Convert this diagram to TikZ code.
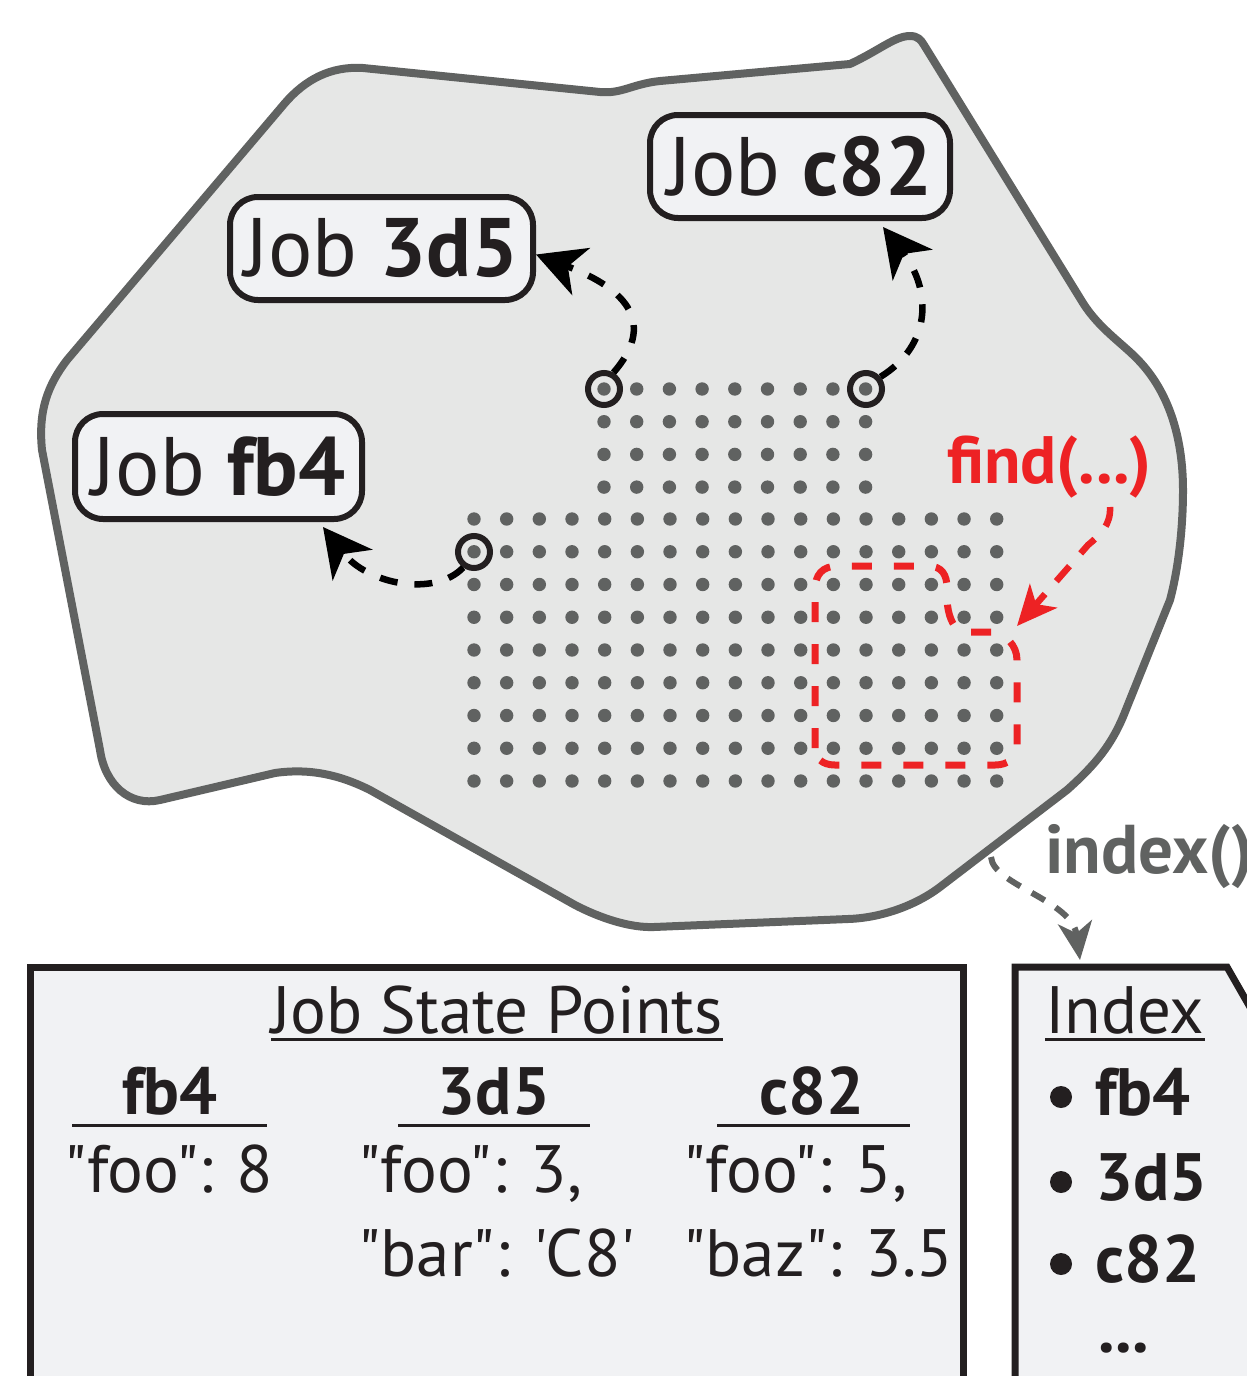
\documentclass[tikz,border=0pt]{standalone}
\usepackage{fontspec}
\setmainfont{PT Sans}[Ligatures=TeXOff]
\usetikzlibrary{arrows.meta}
\definecolor{blobfill}{RGB}{230,231,230}
\definecolor{blobline}{RGB}{96,98,97}
\definecolor{ink}{RGB}{35,31,32}
\definecolor{panelfill}{RGB}{241,242,244}
\definecolor{dotgray}{RGB}{96,98,97}
\definecolor{findred}{RGB}{237,34,36}
\newcommand\FsJob{\fontsize{83}{90}\selectfont}
\newcommand\FsBody{\fontsize{67}{76}\selectfont}
\newcommand\FsCall{\fontsize{67}{72}\selectfont}
\begin{document}
\begin{tikzpicture}[x=1pt,y=-1pt,
  blob/.style={draw=blobline,fill=blobfill,line width=8pt,line join=round},
  jobbox/.style={draw=ink,fill=panelfill,line width=6pt,rounded corners=28pt,inner sep=0pt,minimum height=103pt,font=\FsJob,text=ink},
  ring/.style={circle,draw=ink,line width=6pt,minimum size=32pt,inner sep=0pt},
  jobarrow/.style={black,line width=6.5pt,dash pattern=on 18pt off 17pt,-{Stealth[length=48pt,width=50pt,inset=14pt]}},
  findbox/.style={draw=findred,line width=7pt,dash pattern=on 20pt off 22pt},
  findarrow/.style={findred,line width=6.5pt,dash pattern=on 20pt off 17pt,-{Stealth[length=40pt,width=36pt,inset=11pt]}},
  idxarrow/.style={dotgray,line width=6pt,dash pattern=on 15pt off 13pt,-{Stealth[length=38pt,width=34pt,inset=11pt]}},
  panel/.style={draw=ink,fill=panelfill,line width=7pt},
  txt/.style={inner sep=0pt,font=\FsBody,text=ink},
  hdr/.style={txt,font=\FsBody\bfseries,anchor=base},
  rulel/.style={draw=ink,line width=3pt},
  bullet/.style={fill=ink},
]
\useasboundingbox (0,0) rectangle (1247,1376);

% workspace outline
\path[blob] (363,68) -- (600,92) .. controls (622,94) and (632,84) .. (660,81)
  -- (850,64) .. controls (880,50) and (895,36) .. (910,36)
  .. controls (918,36) and (921,40) .. (924,45)
  -- (1083,303) .. controls (1100,330) and (1125,345) .. (1141,363)
  .. controls (1170,395) and (1183,440) .. (1183,490)
  .. controls (1183,530) and (1178,570) .. (1170,600)
  -- (1125,712) .. controls (1112,745) and (1095,765) .. (1067,790)
  -- (940,887) .. controls (915,906) and (880,918) .. (848,919)
  -- (654,927) .. controls (630,928) and (600,918) .. (575,905)
  -- (370,790) .. controls (340,775) and (310,768) .. (275,773)
  -- (160,800) .. controls (130,807) and (105,785) .. (100,750)
  -- (42,450) .. controls (38,410) and (48,385) .. (67,360)
  -- (285,103) .. controls (305,80) and (330,66) .. (363,68) -- cycle;

% state point grid
\foreach \c in {0,...,8}
  \foreach \r in {0,...,3}
    \fill[dotgray] ({604+32.7*\c},{389+32.7*\r}) circle (6.7pt);
\foreach \c in {0,...,16}
  \foreach \r in {0,...,8}
    \fill[dotgray] ({474+32.67*\c},{519+32.75*\r}) circle (6.7pt);

% selected jobs
\node[ring] (s3d5) at (604,389) {};
\node[ring] (sc82) at (866,389) {};
\node[ring] (sfb4) at (474,552) {};

\node[jobbox,minimum width=303pt] (j3d5) at (381.5,248.5) {Job \textbf{3d5}};
\node[jobbox,minimum width=300pt] (jc82) at (800,166.5) {Job \textbf{c82}};
\node[jobbox,minimum width=287pt,minimum height=105pt] (jfb4) at (218.5,466.5) {Job \textbf{fb4}};

\draw[jobarrow] (s3d5.60) .. controls (655,325) and (630,290) .. ([yshift=-6pt]j3d5.east);
\draw[jobarrow] (sc82.40) .. controls (932,345) and (932,290) .. ([xshift=83pt,yshift=-6pt]jc82.south);
\draw[jobarrow] (sfb4.235) .. controls (435,597) and (368,585) .. ([xshift=104.5pt,yshift=-5pt]jfb4.south);

% find(...) selection
\draw[findbox] (815,748) -- (815,590) .. controls (815,575) and (822,566) .. (838,566)
  -- (928,566) .. controls (942,566) and (947,575) .. (947,588)
  -- (947,600) .. controls (948,615) and (952,625) .. (960,632)
  -- (993,632) .. controls (1005,634) and (1017,645) .. (1017,660)
  -- (1017,745) .. controls (1017,758) and (1008,765) .. (995,765)
  -- (835,765) .. controls (822,765) and (815,758) .. (815,748) -- cycle;
\node[txt,anchor=base west,text=findred,font=\FsCall\bfseries] (find) at (947,483) {find(...)};
\coordinate (findsrc) at (1110,507);
\coordinate (findtip) at (1017,626);
\draw[findarrow] (findsrc) .. controls (1111,525) and (1100,535) .. (1088,545) -- (findtip);

% index() call
\node[txt,anchor=base west,text=dotgray,font=\fontsize{69}{72}\selectfont\bfseries] (idxcall) at (1045,873) {index()};
\coordinate (idxsrc) at (991,857);
\coordinate (idxtop) at (1080,960);
\draw[idxarrow] (idxsrc) .. controls (993,885) and (1072,900) .. (idxtop);

% job state point panel
\path[panel] (30,1420) -- (30,967) -- (963,967) -- (963,1420);
\node[txt,anchor=base] (jsp) at (497,1033) {Job State Points};
\draw[rulel] ([yshift=-6pt]jsp.base west) -- ([yshift=-6pt]jsp.base east);

\node[hdr] (hfb4) at (170,1114) {fb4};
\node[hdr] (h3d5) at (494,1114) {3d5};
\node[hdr] (hc82) at (812,1114) {c82};
\draw[rulel] (72,1125) -- (267,1125);
\draw[rulel] (398,1125) -- (590,1125);
\draw[rulel] (717,1125) -- (910,1125);

\node[txt,anchor=base] (vfb4) at (169,1192) {"foo": 8};
\node[txt,anchor=base west] (v3d5a) at (358,1192) {"foo": 3,};
\node[txt,anchor=base west] (v3d5b) at (358,1276) {"bar": 'C8'};
\node[txt,anchor=base west] (vc82a) at (683,1192) {"foo": 5,};
\node[txt,anchor=base west] (vc82b) at (683,1276) {"baz": 3.5};

% index panel
\path[panel] (1015,1420) -- (1015,967) -- (1227,967) -- (1270,1042) -- (1270,1420);
\node[txt,anchor=base west] (ihead) at (1045,1033) {Index};
\draw[rulel] ([yshift=-6pt]ihead.base west) -- ([yshift=-6pt]ihead.base east);
\node[txt,anchor=base west,font=\FsBody\bfseries] (ifb4) at (1095,1115) {fb4};
\node[txt,anchor=base west,font=\FsBody\bfseries] (i3d5) at (1095,1200) {3d5};
\node[txt,anchor=base west,font=\FsBody\bfseries] (ic82) at (1095,1282) {c82};
\foreach \n in {ifb4,i3d5,ic82}
  \fill[bullet] ([xshift=-34pt,yshift=18pt]\n.base west) circle (11pt);
\node[txt,anchor=base west,font=\FsBody\bfseries] (imore) at (1098,1352) {...};
\end{tikzpicture}
\end{document}
